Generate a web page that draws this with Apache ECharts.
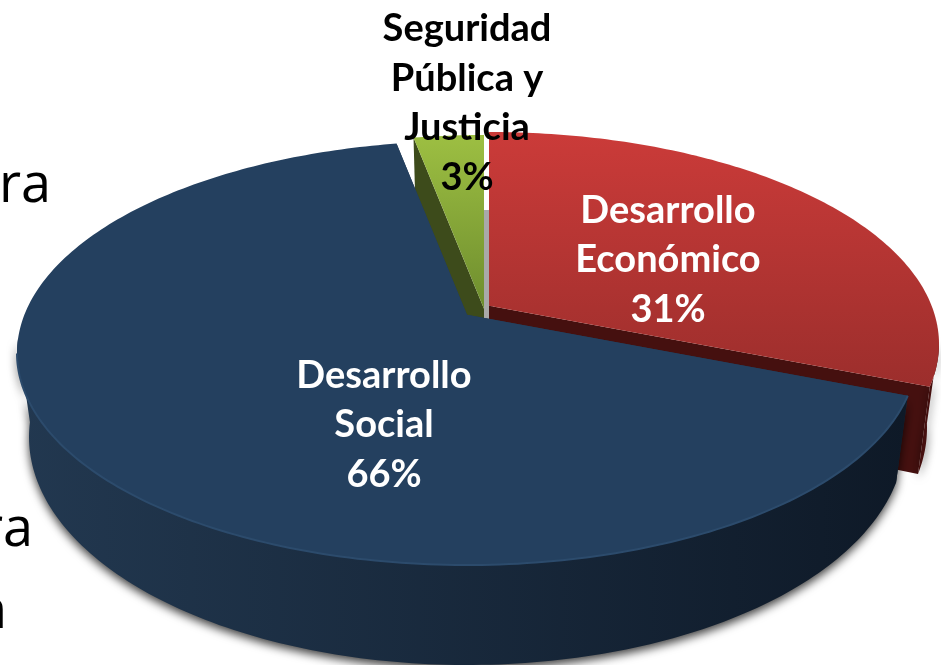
<!DOCTYPE html>
<html>
<head>
<meta charset="utf-8">
<style>
  html, body { margin: 0; padding: 0; background: #fff; }
  #main { width: 941px; height: 665px; }
</style>
<script src="https://cdn.jsdelivr.net/npm/echarts@6/dist/echarts.min.js"></script>
</head>
<body>
<div id="main"></div>
<script>
// clockwise from the top of the pie
const categories = ['Desarrollo\nEconómico', 'Desarrollo\nSocial', 'Seguridad\nPública y\nJusticia'];
const values = [31, 66, 3];

// looks of each slice, same order as above
const topColors = [['#cb3b39', '#9c2e2c'], ['#24405f', '#24405f'], ['#9dbf42', '#6e8d2e']];
const wallColors = [['#45100f', '#45100f'], ['#223850', '#0e1927'], ['#3d4b1b', '#34411a']];
const rimColors = [null, '#2c4b6c', null];
const explode = [[22, -9], [0, 0], [17, -6]];
const labelPos = [[668, 260], [384, 425], [467, 103]];
const labelColors = ['#fff', '#fff', '#000'];
const drawOrder = [1, 2, 0]; // red over green, blue over everything

// top face and bottom face ellipses of the disc
const topE = { cx: 467, cy: 353, a: 450, b: 212 };
const botE = { cx: 467, cy: 437, a: 438, b: 228 };
const tilt = -0.18; // perspective, moves the pie centre up the ellipse

const total = values.reduce((s, v) => s + v, 0);

function project(e, angle, r) {
  // circle point -> perspective -> ellipse
  const u = r * Math.sin(angle);
  const v = -r * Math.cos(angle);
  const w = 1 + tilt * v;
  const px = u * Math.sqrt(1 - tilt * tilt) / w;
  const py = (v + tilt) / w;
  return [e.cx + e.a * px, e.cy + e.b * py];
}

function arc(e, a0, a1, off) {
  const pts = [];
  const n = Math.max(6, Math.ceil((a1 - a0) * 60));
  for (let i = 0; i <= n; i++) {
    const p = project(e, a0 + (a1 - a0) * i / n, 1);
    pts.push([p[0] + off[0], p[1] + off[1]]);
  }
  return pts;
}

function centre(e, off) {
  const p = project(e, 0, 0);
  return [p[0] + off[0], p[1] + off[1]];
}

function grad(c, horizontal) {
  return {
    type: 'linear', x: 0, y: 0, x2: horizontal ? 1 : 0, y2: horizontal ? 0 : 1,
    colorStops: [{ offset: 0, color: c[0] }, { offset: 1, color: c[1] }]
  };
}

function renderSlice(params, api) {
  const i = params.dataIndex;
  const before = values.slice(0, i).reduce((s, v) => s + v, 0);
  const a0 = before / total * Math.PI * 2;
  const a1 = a0 + api.value(0) / total * Math.PI * 2;
  const off = explode[i];
  const order = drawOrder[i] * 10;

  const topArc = arc(topE, a0, a1, off);
  const botArc = arc(botE, a0, a1, off);
  const cTop = centre(topE, off);
  const cBot = centre(botE, off);

  const children = [
    {
      type: 'polygon', z2: order,
      shape: { points: [cTop, topArc[0], botArc[0], cBot] },
      style: { fill: wallColors[i][0] }
    },
    {
      type: 'polygon', z2: order,
      shape: { points: [cTop, topArc[topArc.length - 1], botArc[botArc.length - 1], cBot] },
      style: { fill: wallColors[i][0] }
    },
    {
      type: 'polygon', z2: order + 2,
      shape: { points: [cTop].concat(topArc) },
      style: { fill: grad(topColors[i], false) }
    },
    {
      type: 'text', z2: 100,
      style: {
        x: labelPos[i][0], y: labelPos[i][1],
        text: categories[i] + '\n' + api.value(0) + '%',
        fill: labelColors[i],
        font: 'bold 38px Lato',
        lineHeight: 49.5,
        align: 'center',
        verticalAlign: 'middle'
      }
    }
  ];

  // outer wall, only the part facing the viewer so the shadow stays at the front
  const frontTop = topArc.filter(p => p[1] > topE.cy - 15);
  const frontBot = botArc.filter((p, k) => topArc[k][1] > topE.cy - 15);
  if (frontTop.length > 1) {
    children.push({
      type: 'polygon', z2: order + 1,
      shape: { points: frontTop.concat(frontBot.slice().reverse()) },
      style: {
        fill: grad(wallColors[i], true),
        shadowBlur: 10, shadowColor: 'rgba(0,0,0,0.75)', shadowOffsetY: 4
      }
    });
  }
  if (rimColors[i]) {
    // lighter edge only on the front of the disc
    children.push({
      type: 'polyline', z2: order + 3,
      shape: { points: topArc.filter(p => p[1] > topE.cy) },
      style: { fill: null, stroke: rimColors[i], lineWidth: 2 }
    });
  }
  return { type: 'group', children: children };
}

const chart = echarts.init(document.getElementById('main'), null, { renderer: 'canvas' });
chart.setOption({
  animation: false,
  backgroundColor: '#fff',
  graphic: [
    // bits of the slide text behind the chart
    { type: 'text', x: -1, y: 160, style: { text: 'ra', font: '54px "Open Sans"', fill: '#000' } },
    { type: 'text', x: -19, y: 504, style: { text: 'ra', font: '54px "Open Sans"', fill: '#000' } },
    { type: 'text', x: -26, y: 586, style: { text: 'n', font: '54px "Open Sans"', fill: '#000' } },
    // grey sliver between the green and red slices
    { type: 'rect', z: -1, shape: { x: 484, y: 210, width: 9, height: 120 }, style: { fill: '#a9a9a9' } }
  ],
  series: [{
    type: 'custom',
    coordinateSystem: 'none',
    renderItem: renderSlice,
    data: values.map(v => [v]),
    silent: true
  }]
});
</script>
</body>
</html>
